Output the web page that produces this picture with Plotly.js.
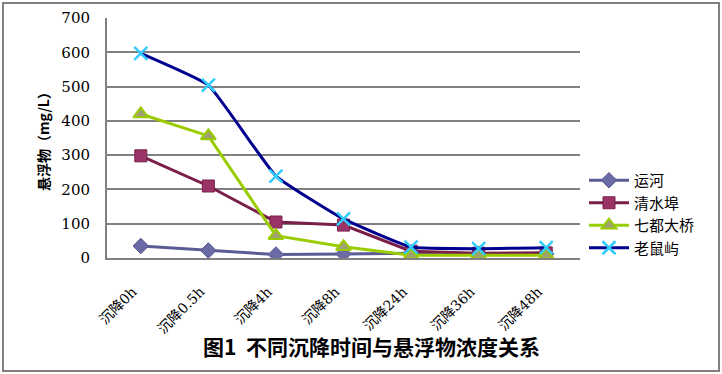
<!DOCTYPE html>
<html>
<head>
<meta charset="utf-8">
<script src="https://cdn.plot.ly/plotly-3.0.1.min.js"></script>
<style>
html,body{margin:0;padding:0;background:#fff;}
#chart{width:722px;height:374px;}
</style>
</head>
<body>
<div id="chart"></div>
<script>
const categories = ["沉降0h","沉降0.5h","沉降4h","沉降8h","沉降24h","沉降36h","沉降48h"];
const seriesNames = ["运河","清水埠","七都大桥","老鼠屿"];
const yunhe = [35, 22, 10, 12, 14, 12, 12];
const qingshuibu = [298, 210, 105, 96, 20, 14, 15];
const qidudaqiao = [420, 356, 65, 33, 8, 8, 8];
const laoshuyu = [597, 504, 239, 114, 32, 27, 30];
const yTicks = [0,100,200,300,400,500,600,700];

const L = 107, R = 580, T = 18, B = 258, W = 722, H = 374;
const px = v => (v - L) / (R - L);
const py = v => (B - v) / (B - T);

const traces = [
  {x: categories, y: yunhe, name: seriesNames[0], type: 'scatter', mode: 'lines+markers',
   line: {color: '#5b5b95', width: 3},
   marker: {symbol: 'diamond', size: 12, color: '#6a6aa5', line: {color: '#5b5b95', width: 1}}},
  {x: categories, y: qingshuibu, name: seriesNames[1], type: 'scatter', mode: 'lines+markers',
   line: {color: '#7a1f4a', width: 3},
   marker: {symbol: 'square', size: 12, color: '#9b3466', line: {color: '#7a1f4a', width: 1}}},
  {x: categories, y: qidudaqiao, name: seriesNames[2], type: 'scatter', mode: 'lines+markers',
   line: {color: '#9acd00', width: 3},
   marker: {symbol: 'triangle-up', size: 13, color: '#a0a070', line: {color: '#9acd00', width: 2}}},
  {x: categories, y: laoshuyu, name: seriesNames[3], type: 'scatter', mode: 'lines+markers',
   line: {color: '#00008f', width: 3, shape: 'spline', smoothing: 0.35},
   marker: {symbol: 'x-thin', size: 13, color: '#33ccff', line: {color: '#33ccff', width: 2.5}}}
];

const layout = {
  width: W, height: H,
  margin: {l: L, r: W - R, t: T, b: H - B},
  paper_bgcolor: '#ffffff', plot_bgcolor: '#ffffff',
  showlegend: true,
  legend: {x: px(584), y: py(164), xanchor: 'left', yanchor: 'top',
    font: {family: 'Noto Sans CJK SC', size: 15, color: '#000'},
    tracegroupgap: 0, itemwidth: 40, bgcolor: 'rgba(0,0,0,0)'},
  xaxis: {type: 'category', range: [-0.5, 6.5], showgrid: false, showline: true,
    linecolor: '#808080', linewidth: 2, ticks: '', tickangle: -45,
    ticklabelstandoff: 18, ticklabelshift: -8,
    tickfont: {family: 'DejaVu Serif, Noto Sans CJK SC', size: 14, color: '#000'}, zeroline: false},
  yaxis: {range: [0, 700], tickvals: yTicks, showgrid: true, gridcolor: '#808080', gridwidth: 2,
    showline: true, linecolor: '#808080', linewidth: 2, ticks: '', zeroline: false,
    ticklabelstandoff: 12,
    tickfont: {family: 'DejaVu Serif', size: 15, color: '#000'},
    title: {text: '<b>悬浮物（mg/L）</b>', font: {family: 'Noto Sans CJK SC', size: 14, color: '#000'}, standoff: 8}},
  annotations: [
    {text: '<b>图1  不同沉降时间与悬浮物浓度关系</b>', xref: 'paper', yref: 'paper',
     x: px(371), y: py(346), xanchor: 'center', yanchor: 'middle', showarrow: false,
     font: {family: 'Noto Sans CJK SC', size: 21, color: '#000'}}
  ],
  shapes: [
    {type: 'rect', xref: 'paper', yref: 'paper', x0: px(3), x1: px(719), y0: py(371), y1: py(3),
     line: {color: '#808080', width: 2}, fillcolor: 'rgba(0,0,0,0)', layer: 'below'}
  ]
};

Plotly.newPlot('chart', traces, layout, {displayModeBar: false, staticPlot: true});
</script>
</body>
</html>
